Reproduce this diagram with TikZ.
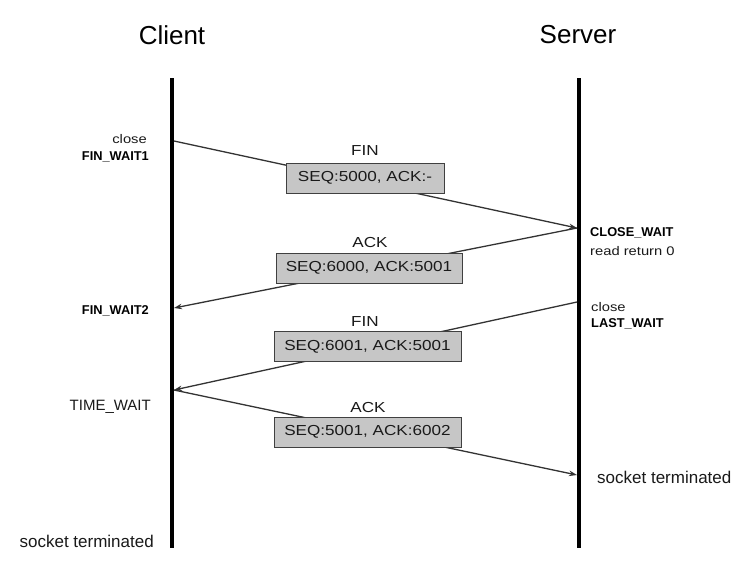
\documentclass[tikz,border=0pt]{standalone}
\usepackage{fontspec}
\setmainfont{Liberation Sans}
\newfontfamily\wf[FakeStretch=1.18]{Liberation Sans}
\usetikzlibrary{arrows.meta}
\definecolor{boxfill}{HTML}{C6C6C6}
\definecolor{boxline}{HTML}{404040}
\definecolor{msgline}{HTML}{333333}
\definecolor{txt}{HTML}{1A1A1A}
\tikzset{
  lifeline/.style={line width=3.8pt, black},
  msg/.style={line width=1.3pt, msgline, -{Stealth[length=8pt,width=5.5pt]}},
  msgbox/.style={draw=boxline, line width=1pt, fill=boxfill, minimum height=30pt, inner sep=0pt, text=txt, font=\wf\fontsize{14.5}{16}\selectfont},
  msglabel/.style={text=txt, font=\wf\fontsize{14.5}{16}\selectfont, inner sep=0pt},
  title/.style={font=\fontsize{26}{29}\selectfont, inner sep=0pt},
  stsmall/.style={font=\wf\fontsize{12.5}{14}\selectfont, inner sep=0pt, text=txt},
  stbold/.style={font=\bfseries\fontsize{12.8}{14}\selectfont, inner sep=0pt},
  stbig/.style={font=\fontsize{15}{17}\selectfont, inner sep=0pt, text=txt},
  stterm/.style={font=\fontsize{17}{19}\selectfont, inner sep=0pt, text=txt}
}
\begin{document}
\begin{tikzpicture}[x=1pt,y=-1pt]
\useasboundingbox[fill=white] (0,0) rectangle (750,574);
% titles
\node[title] (client) at (172,35) {Client};
\node[title] (server) at (578,35) {Server};
% lifelines
\coordinate (ctop) at (172,78);
\coordinate (cbot) at (172,548);
\coordinate (stop) at (579,78);
\coordinate (sbot) at (579,548);
\draw[lifeline] (ctop) -- (cbot);
\draw[lifeline] (stop) -- (sbot);
% message end points
\coordinate (c1) at (174,141);
\coordinate (s1) at (577,228);
\coordinate (s1b) at (577,228);
\coordinate (c2) at (174,308);
\coordinate (s2) at (577,302);
\coordinate (c3) at (174,390);
\coordinate (c3b) at (174,390);
\coordinate (s3) at (577,475);
\draw[msg] (c1) -- (s1);
\draw[msg] (s1b) -- (c2);
\draw[msg] (s2) -- (c3);
\draw[msg] (c3b) -- (s3);
% boxes
\node[msgbox, minimum width=158pt] (b1) at (365,178) {SEQ:5000, ACK:-};
\node[msgbox, minimum width=186pt] (b2) at (369,268) {SEQ:6000, ACK:5001};
\node[msgbox, minimum width=187pt] (b3) at (367.5,346.5) {SEQ:6001, ACK:5001};
\node[msgbox, minimum width=187pt] (b4) at (367.5,432) {SEQ:5001, ACK:6002};
\node[msglabel] (l1) at (365,151) {FIN};
\node[msglabel] (l2) at (370,243) {ACK};
\node[msglabel] (l3) at (365,322) {FIN};
\node[msglabel] (l4) at (368,408) {ACK};
% client states
\node[stsmall, anchor=east] (cclose) at (147,139) {close};
\node[stbold, anchor=east] (fw1) at (149,157) {FIN\_WAIT1};
\node[stbold, anchor=east] (fw2) at (149,311) {FIN\_WAIT2};
\node[stbig, anchor=east] (tw) at (151,407) {TIME\_WAIT};
\node[stterm, anchor=east] (cterm) at (154,541) {socket terminated};
% server states
\node[stbold, anchor=west] (cw) at (590,233) {CLOSE\_WAIT};
\node[stsmall, anchor=west] (rr) at (590,251) {read return 0};
\node[stsmall, anchor=west] (sclose) at (591,307) {close};
\node[stbold, anchor=west] (lw) at (591,324) {LAST\_WAIT};
\node[stterm, anchor=west] (sterm) at (597,477) {socket terminated};
\end{tikzpicture}
\end{document}
